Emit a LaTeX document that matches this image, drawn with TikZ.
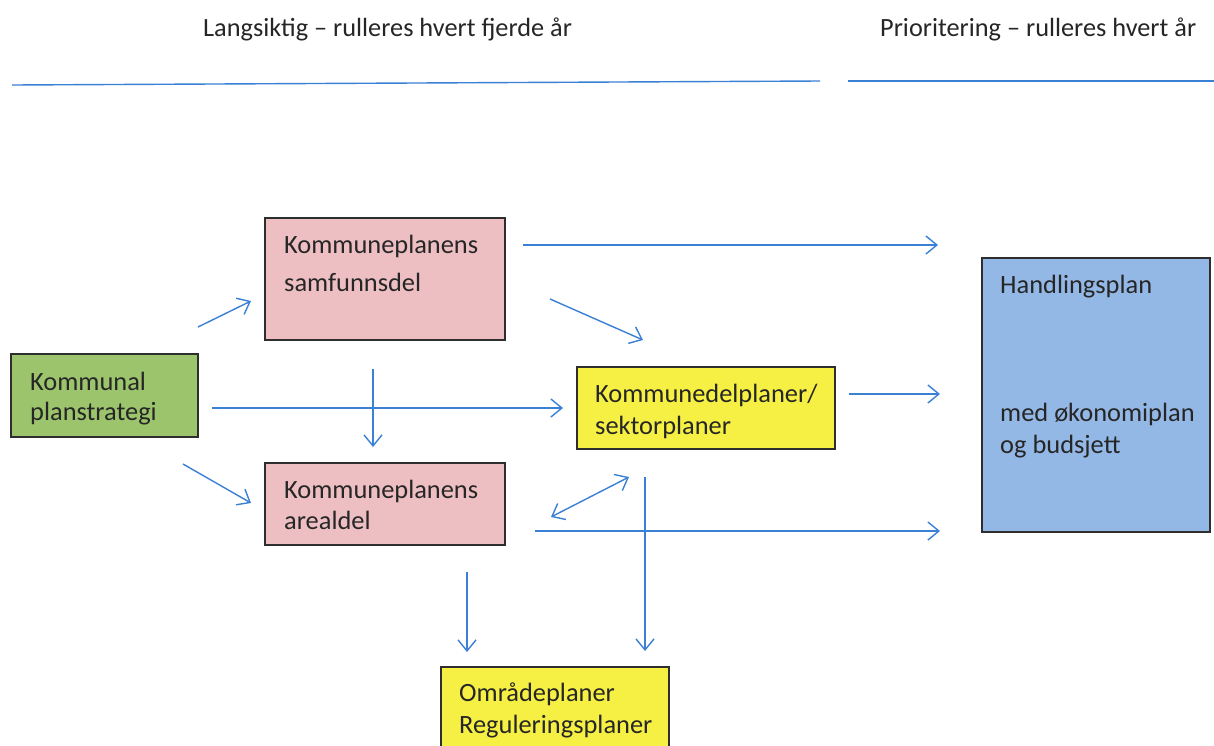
\documentclass[tikz,border=0pt]{standalone}
\usepackage{fontspec}
\setmainfont{Carlito}
\usetikzlibrary{arrows.meta}
\definecolor{lineblue}{HTML}{3A80D5}
\definecolor{pinkc}{HTML}{EDBEC2}
\definecolor{greenc}{HTML}{9CC46C}
\definecolor{yellowc}{HTML}{F6F044}
\definecolor{bluec}{HTML}{93B8E5}
\definecolor{edgec}{HTML}{2E2E2E}
\definecolor{textc}{HTML}{262626}
\begin{document}
\begin{tikzpicture}[x=1pt,y=-1pt,
  box/.style={draw=edgec, line width=1.2pt, inner sep=0pt, outer sep=0pt},
  txt/.style={font=\fontsize{26.4}{30}\selectfont, inner sep=0pt, text=textc, anchor=base west},
  head/.style={font=\fontsize{26.3}{30}\selectfont, inner sep=0pt, text=textc, anchor=base west},
  hline/.style={draw=lineblue, line width=1.4pt},
  arr/.style={draw=lineblue, line width=1.4pt, -{Straight Barb[length=11pt,width=18pt]}},
  darr/.style={draw=lineblue, line width=1.4pt, {Straight Barb[length=11pt,width=18pt]}-{Straight Barb[length=11pt,width=18pt]}}]
\useasboundingbox (0,0) rectangle (1214,745);
\fill[white] (0,0) rectangle (1214,745);
% headers
\node[head] (h1) at (203,36) {Langsiktig – rulleres hvert fjerde år};
\node[head] (h2) at (880,36) {Prioritering – rulleres hvert år};
\coordinate (l1a) at (12,85);
\coordinate (l1b) at (820,81);
\coordinate (l2a) at (848,81);
\coordinate (l2b) at (1214,81);
\draw[hline] (l1a) -- (l1b);
\draw[hline] (l2a) -- (l2b);
% boxes
\node[box, fill=pinkc, minimum width=240pt, minimum height=122pt] (samf) at (385,279) {};
\node[box, fill=greenc, minimum width=187pt, minimum height=83pt] (strat) at (104.5,395.5) {};
\node[box, fill=pinkc, minimum width=240pt, minimum height=82pt] (areal) at (385,504) {};
\node[box, fill=yellowc, minimum width=258pt, minimum height=82pt] (kdp) at (706,408) {};
\node[box, fill=bluec, minimum width=228pt, minimum height=274pt] (handl) at (1096,395) {};
\node[box, fill=yellowc, minimum width=228pt, minimum height=110pt] (omr) at (555,722) {};
% texts
\node[txt] (samf1) at (284,253) {Kommuneplanens};
\node[txt] (samf2) at (284,291) {samfunnsdel};
\node[txt] (strat1) at (30,390) {Kommunal};
\node[txt] (strat2) at (30,420) {planstrategi};
\node[txt] (areal1) at (284,498) {Kommuneplanens};
\node[txt] (areal2) at (284,529) {arealdel};
\node[txt] (kdp1) at (595,402) {Kommunedelplaner/};
\node[txt] (kdp2) at (595,434) {sektorplaner};
\node[txt] (handl1) at (1000,293) {Handlingsplan};
\node[txt] (handl2) at (1000,421) {med økonomiplan};
\node[txt] (handl3) at (1000,453) {og budsjett};
\node[txt] (omr1) at (459,701) {Områdeplaner};
\node[txt] (omr2) at (459,733) {Reguleringsplaner};
% arrow end points
\coordinate (a1s) at (198,327); \coordinate (a1e) at (251,301);
\coordinate (a2s) at (523,245); \coordinate (a2e) at (938,245);
\coordinate (a3s) at (550,299); \coordinate (a3e) at (643,340);
\coordinate (a4s) at (212,408); \coordinate (a4e) at (563,408);
\coordinate (a5s) at (373,369); \coordinate (a5e) at (373,447);
\coordinate (a6s) at (183,464); \coordinate (a6e) at (251,503);
\coordinate (a7s) at (849,394); \coordinate (a7e) at (940,394);
\coordinate (a8s) at (551,517); \coordinate (a8e) at (629,477);
\coordinate (a9s) at (535,531); \coordinate (a9e) at (940,531);
\coordinate (a10s) at (645,477); \coordinate (a10e) at (645,651);
\coordinate (a11s) at (467,572); \coordinate (a11e) at (467,652);
\draw[arr] (a1s) -- (a1e);
\draw[arr] (a2s) -- (a2e);
\draw[arr] (a3s) -- (a3e);
\draw[arr] (a4s) -- (a4e);
\draw[arr] (a5s) -- (a5e);
\draw[arr] (a6s) -- (a6e);
\draw[arr] (a7s) -- (a7e);
\draw[darr] (a8s) -- (a8e);
\draw[arr] (a9s) -- (a9e);
\draw[arr] (a10s) -- (a10e);
\draw[arr] (a11s) -- (a11e);
\end{tikzpicture}
\end{document}
